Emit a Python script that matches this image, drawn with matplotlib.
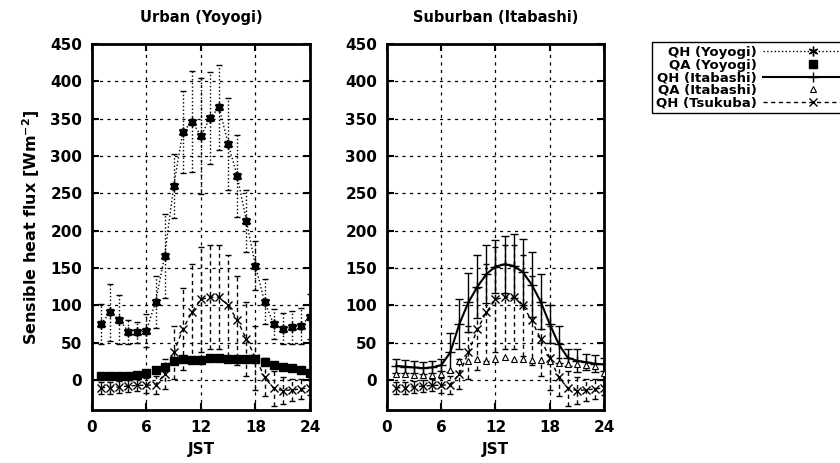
import matplotlib
matplotlib.use("Agg")
import matplotlib.pyplot as plt
import numpy as np

plt.rcParams['font.family'] = ['DejaVu Sans']
plt.rcParams['font.weight'] = 'bold'
plt.rcParams['mathtext.default'] = 'bf'

# hour of day (JST)
hours = list(range(1, 25))

# Urban (Yoyogi)
qh_yoyogi = [75, 91, 81, 65, 64, 66, 105, 166, 260, 332, 346, 327,
             351, 365, 316, 273, 213, 153, 105, 75, 69, 71, 73, 85]
qh_yoyogi_sd = [27, 38, 33, 16, 14, 22, 35, 56, 43, 55, 68, 78,
                62, 57, 62, 55, 42, 33, 30, 20, 21, 22, 24, 30]
qa_yoyogi = [6, 6, 6, 6, 7, 9, 14, 18, 26, 28, 27, 27,
             29, 29, 28, 28, 28, 28, 24, 20, 18, 16, 14, 10]

# Suburban (Itabashi)
qh_itabashi = [19, 18, 17, 16, 17, 20, 37, 75, 104, 125, 142, 152,
               155, 153, 145, 128, 105, 75, 48, 30, 26, 24, 22, 21]
qh_itabashi_sd = [9, 9, 8, 8, 8, 8, 26, 33, 40, 42, 39, 35,
                  38, 43, 44, 43, 37, 25, 25, 11, 15, 11, 11, 9]
qa_itabashi = [8, 8, 7, 7, 7, 8, 14, 25, 26, 28, 26, 28,
               31, 28, 28, 27, 27, 26, 23, 22, 21, 20, 19, 10]

# Tsukuba (reference, both panels)
qh_tsukuba = [-10, -10, -9, -8, -7, -7, -6, 8, 37, 68, 91, 108,
              111, 111, 100, 80, 55, 30, 4, -11, -14, -13, -12, -10]
qh_tsukuba_sd = [8, 8, 8, 8, 8, 10, 12, 20, 35, 55, 65, 70,
                 70, 70, 68, 60, 49, 43, 25, 23, 18, 15, 13, 10]

ASTER = (6, 2, 0)


def errline(ax, x, y, e, ls, marker, ms, lw, cap, label, dashes=None):
    line, caps, bars = ax.errorbar(x, y, yerr=e, color='black', lw=lw,
                                   marker=marker, ms=ms, mew=1.0,
                                   capsize=cap, capthick=1.0,
                                   elinewidth=1.0, label=label, zorder=3)
    line.set_linestyle(ls)
    if dashes is not None:
        line.set_dashes(dashes)
    for b in bars:
        if dashes is not None:
            b.set_linestyle((0, dashes))
        elif ls != '-':
            b.set_linestyle(ls)
    return line


def style(ax, title):
    ax.set_xlim(0, 24)
    ax.set_ylim(-40, 450)
    ax.set_xticks([0, 6, 12, 18, 24])
    ax.set_yticks(np.arange(0, 451, 50))
    ax.tick_params(direction='in', length=5, width=1.5, top=True, right=True,
                   labelsize=11, pad=7)
    ax.grid(True, color='black', linestyle=(0, (2.5, 3.5)), linewidth=0.9)
    for s in ax.spines.values():
        s.set_linewidth(2)
    ax.set_title(title, fontsize=10.5, fontweight='bold', pad=16)
    ax.set_xlabel('JST', fontsize=11, fontweight='bold', labelpad=5)


fig = plt.figure(figsize=(8.4, 4.63), dpi=100)
ax1 = fig.add_axes([0.1095, 0.1145, 0.2595, 0.7905])
ax2 = fig.add_axes([0.4607, 0.1145, 0.2583, 0.7905])

# left panel
h1 = errline(ax1, hours, qh_yoyogi, qh_yoyogi_sd, ':', ASTER, 7, 1.0, 2,
             'QH (Yoyogi)')
ax1.plot(hours, qh_yoyogi, ls='none', marker='s', ms=4, color='black', zorder=4)
h2, = ax1.plot(hours, qa_yoyogi, ls='none', marker='s', ms=5.5,
               color='black', label='QA (Yoyogi)', zorder=4)
h5 = errline(ax1, hours, qh_tsukuba, qh_tsukuba_sd, '--', 'x', 6, 1.0, 2,
             'QH (Tsukuba)', dashes=(3, 2.5))
ax1.set_ylabel('Sensible heat flux [Wm$^{-2}$]', fontsize=11.5,
               fontweight='bold', labelpad=6)
style(ax1, 'Urban (Yoyogi)')

# right panel
h3 = errline(ax2, hours, qh_itabashi, qh_itabashi_sd, '-', '+', 7, 1.5, 3,
             'QH (Itabashi)')
h4, = ax2.plot(hours, qa_itabashi, ls='none', marker='^', ms=5, mfc='white',
               mec='black', mew=0.8, label='QA (Itabashi)', zorder=4)
errline(ax2, hours, qh_tsukuba, qh_tsukuba_sd, '--', 'x', 6, 1.0, 2,
        'QH (Tsukuba)', dashes=(3, 2.5))
style(ax2, 'Suburban (Itabashi)')

# legend box runs off the right edge like the original
leg = fig.legend([h1, h2, h3, h4, h5],
                 ['QH (Yoyogi)', 'QA (Yoyogi)', 'QH (Itabashi)',
                  'QA (Itabashi)', 'QH (Tsukuba)'],
                 loc='upper left', bbox_to_anchor=(0.776, 0.909),
                 markerfirst=False, fancybox=False, framealpha=1,
                 edgecolor='black', fontsize=9.5, labelspacing=-0.03,
                 handlelength=7.5, handletextpad=0.5, borderpad=0.3,
                 borderaxespad=0)
leg.get_frame().set_linewidth(1.0)

fig.savefig('out.png', dpi=100)
